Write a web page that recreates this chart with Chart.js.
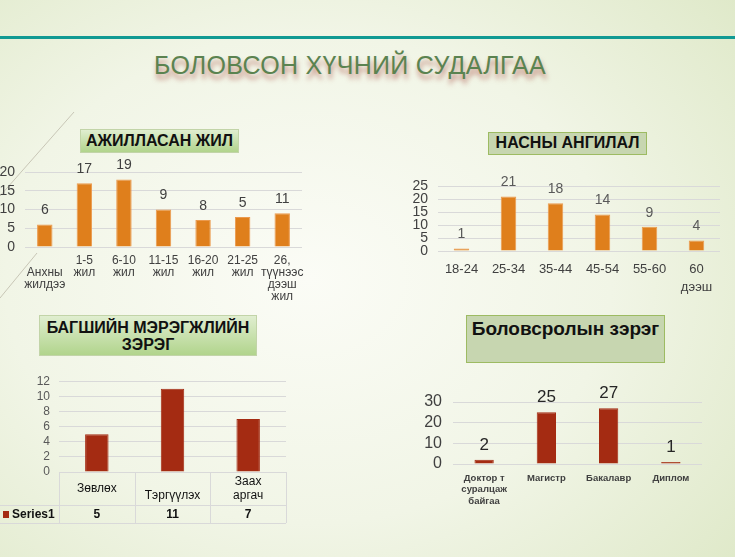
<!DOCTYPE html>
<html>
<head>
<meta charset="utf-8">
<script src="https://cdn.jsdelivr.net/npm/chart.js@4.4.1/dist/chart.umd.min.js"></script>
<style>
  html, body { margin: 0; padding: 0; }
  body {
    width: 735px; height: 557px; position: relative; overflow: hidden;
    font-family: "Liberation Sans", Arial, sans-serif;
    background: radial-gradient(ellipse 75% 80% at 42% 50%, #fbfcf6 0%, #f1f5e6 55%, #dfe9c9 100%);
  }
  .rule { position: absolute; left: 0; top: 36px; width: 735px; height: 3px; background: #119a93; }
  .main-title {
    position: absolute; left: 0; top: 51px; width: 700px; text-align: center;
    font-size: 25px; color: #5b8350; letter-spacing: 0.3px;
    text-shadow: 1px 5px 5px rgba(160, 60, 50, 0.6);
  }
  .box {
    position: absolute; box-sizing: border-box; font-weight: bold; color: #111;
    text-align: center;
  }
  .box.grad { background: linear-gradient(#e0eed0, #b1d48c); border: 1px solid #c2d4a8; }
  .box.flat { background: #c7d6b0; border: 1.5px solid #9dbb62; }
  canvas { position: absolute; }
  svg { position: absolute; left: 0; top: 0; }
</style>
</head>
<body>
<div class="rule"></div>
<div class="main-title">БОЛОВСОН ХҮЧНИЙ СУДАЛГАА</div>
<svg width="735" height="557">
  <line x1="0" y1="196" x2="74" y2="112" stroke="#c8c6b6" stroke-width="1"/>
  <line x1="0" y1="298" x2="37" y2="253" stroke="#c8c6b6" stroke-width="1"/>
</svg>

<div class="box grad" style="left:80px;top:129px;width:159px;height:24px;font-size:16px;line-height:22px;">АЖИЛЛАСАН ЖИЛ</div>
<div class="box flat" style="left:488px;top:132px;width:159px;height:23px;font-size:16px;line-height:20px;">НАСНЫ АНГИЛАЛ</div>
<div class="box grad" style="left:39px;top:315px;width:218px;height:41px;font-size:16px;line-height:17px;padding-top:3px;">БАГШИЙН МЭРЭГЖЛИЙН<br>ЗЭРЭГ</div>
<div class="box flat" style="left:466px;top:315px;width:199px;height:48px;font-size:19px;line-height:26px;">Боловсролын зэрэг</div>

<canvas id="work" width="310" height="162" style="left:0;top:150px"></canvas>
<canvas id="age" width="335" height="135" style="left:400px;top:165px"></canvas>
<canvas id="rank" width="300" height="165" style="left:0;top:365px"></canvas>
<canvas id="degree" width="335" height="135" style="left:400px;top:375px"></canvas>

<script>
// ажилласан жил
const workCategories = [['', 'Анхны', 'жилдээ'], ['1-5', 'жил'], ['6-10', 'жил'], ['11-15', 'жил'], ['16-20', 'жил'], ['21-25', 'жил'], ['26,', 'түүнээс', 'дээш', 'жил']];
const workValues = [6, 17, 18, 10, 7.2, 8, 9];
const workLabels = ['6', '17', '19', '9', '8', '5', '11'];

// насны ангилал
const ageCategories = ['18-24', '25-34', '35-44', '45-54', '55-60', ['60', 'дээш']];
const ageValues = [1, 21, 18.4, 14, 9.3, 4];
const ageLabels = ['1', '21', '18', '14', '9', '4'];

// багшийн мэргэжлийн зэрэг
const rankCategories = [['Зөвлөх'], ['', 'Тэргүүлэх'], ['Заах', 'аргач']];
const rankValues = [5, 11, 7];
const rankSeries = 'Series1';

// боловсролын зэрэг
const degreeCategories = [['Доктор т', 'суралцаж', 'байгаа'], 'Магистр', 'Бакалавр', 'Диплом'];
const degreeValues = [2, 25, 27, 1];
const degreeLabels = ['2', '25', '27', '1'];

const ORANGE = '#df7f1c';
const DARKRED = '#a42b12';
const GRID = '#d9d9d9';
const FONT = '"Liberation Sans", Arial, sans-serif';

const barText = {
    id: 'barText',
    afterDatasetsDraw(chart, args, opts) {
        if (!opts.texts) return;
        const ctx = chart.ctx;
        ctx.save();
        ctx.font = opts.font;
        ctx.fillStyle = opts.color;
        ctx.textAlign = 'center';
        ctx.textBaseline = 'middle';
        chart.getDatasetMeta(0).data.forEach((bar, i) => {
            ctx.fillText(opts.texts[i], bar.x, bar.y - opts.offset);
        });
        ctx.restore();
    }
};

// data table under the rank chart
const dataTable = {
    id: 'dataTable',
    afterDraw(chart, args, opts) {
        if (!opts.rows) return;
        const ctx = chart.ctx;
        const x = chart.scales.x;
        const area = chart.chartArea;
        const top = area.bottom, mid = top + 33, bottom = mid + 18;
        const step = (area.right - area.left) / opts.labels.length;
        ctx.save();
        ctx.strokeStyle = GRID;
        ctx.lineWidth = 1;
        ctx.beginPath();
        ctx.moveTo(area.left, top + 0.5); ctx.lineTo(area.right, top + 0.5);
        ctx.moveTo(0, mid + 0.5); ctx.lineTo(area.right, mid + 0.5);
        ctx.moveTo(0, bottom + 0.5); ctx.lineTo(area.right, bottom + 0.5);
        for (let i = 0; i <= opts.labels.length; i++) {
            const lx = Math.round(area.left + step * i) + 0.5;
            ctx.moveTo(lx, top); ctx.lineTo(lx, bottom);
        }
        ctx.stroke();

        ctx.fillStyle = '#111';
        ctx.textAlign = 'center';
        ctx.textBaseline = 'middle';
        ctx.font = '12px ' + FONT;
        opts.labels.forEach((lines, i) => {
            const cx = x.getPixelForValue(i);
            const y0 = (top + mid) / 2 - (lines.length - 1) * 7;
            lines.forEach((t, j) => ctx.fillText(t, cx, y0 + j * 14));
        });
        ctx.font = 'bold 12px ' + FONT;
        opts.rows.forEach((v, i) => {
            ctx.fillText(String(v), x.getPixelForValue(i), (mid + bottom) / 2 + 1);
        });
        ctx.fillStyle = opts.color;
        ctx.fillRect(3, (mid + bottom) / 2 - 3, 6, 7);
        ctx.fillStyle = '#111';
        ctx.textAlign = 'left';
        ctx.fillText(opts.name, 12, (mid + bottom) / 2 + 1);
        ctx.restore();
    }
};

Chart.register(barText, dataTable);
Chart.defaults.font.family = FONT;
Chart.defaults.animation = false;

function barChart(id, cfg) {
    return new Chart(document.getElementById(id), {
        type: 'bar',
        data: {
            labels: cfg.categories,
            datasets: [{
                data: cfg.values,
                backgroundColor: cfg.color,
                borderColor: cfg.border,
                borderWidth: 1,
                barPercentage: cfg.barPct,
                categoryPercentage: 1
            }]
        },
        options: {
            responsive: false,
            layout: { padding: cfg.padding },
            plugins: {
                legend: { display: false },
                tooltip: { enabled: false },
                barText: cfg.texts ? { texts: cfg.texts, font: cfg.textFont, color: cfg.textColor, offset: cfg.textOffset } : {},
                dataTable: cfg.table || {}
            },
            scales: {
                x: cfg.xHidden ? { display: false } : {
                    grid: { display: false },
                    border: { display: false },
                    ticks: {
                        maxRotation: 0, autoSkip: false, padding: cfg.xPad,
                        color: '#404040', font: cfg.xFont
                    },
                    afterFit(s) { s.height = cfg.xHeight; }
                },
                y: {
                    min: 0, max: cfg.max,
                    grid: { color: GRID, drawTicks: false },
                    border: { display: false },
                    ticks: { stepSize: cfg.step, autoSkip: false, padding: cfg.yPad, color: cfg.yColor, font: { size: cfg.ySize } },
                    afterFit(s) { s.width = cfg.yWidth; }
                }
            }
        }
    });
}

barChart('work', {
    categories: workCategories, values: workValues, color: ORANGE, border: '#eb9a4e', barPct: 0.39,
    padding: { top: 22, right: 8, left: 0, bottom: 0 },
    texts: workLabels, textFont: '14px ' + FONT, textColor: '#404040', textOffset: 14,
    xPad: 0, xFont: { size: 12, lineHeight: 1.0 }, xHeight: 65,
    max: 20, step: 5, yPad: 10, yColor: '#404040', ySize: 14, yWidth: 25
});

barChart('age', {
    categories: ageCategories, values: ageValues, color: ORANGE, border: '#eb9a4e', barPct: 0.33,
    padding: { top: 21, right: 15, left: 0, bottom: 0 },
    texts: ageLabels, textFont: '14px ' + FONT, textColor: '#595959', textOffset: 14,
    xPad: 2, xFont: { size: 13, lineHeight: 1.35 }, xHeight: 49,
    max: 25, step: 5, yPad: 10, yColor: '#404040', ySize: 14, yWidth: 38
});

barChart('rank', {
    categories: rankCategories.map(c => c.join(' ')), values: rankValues, color: DARKRED, border: DARKRED, barPct: 0.31,
    padding: { top: 14, right: 14, left: 0, bottom: 58 },
    xHidden: true,
    table: { labels: rankCategories, rows: rankValues, name: rankSeries, color: DARKRED },
    max: 12, step: 2, yPad: 9, yColor: '#595959', ySize: 12, yWidth: 59
});

barChart('degree', {
    categories: degreeCategories, values: degreeValues, color: DARKRED, border: DARKRED, barPct: 0.31,
    padding: { top: 27, right: 33, left: 0, bottom: 0 },
    texts: degreeLabels, textFont: '17px ' + FONT, textColor: '#262626', textOffset: 15,
    xPad: 0, xFont: { size: 9.5, weight: 'bold', lineHeight: 1.25 }, xHeight: 46,
    max: 30, step: 10, yPad: 11, yColor: '#404040', ySize: 16, yWidth: 53
});
</script>
</body>
</html>
